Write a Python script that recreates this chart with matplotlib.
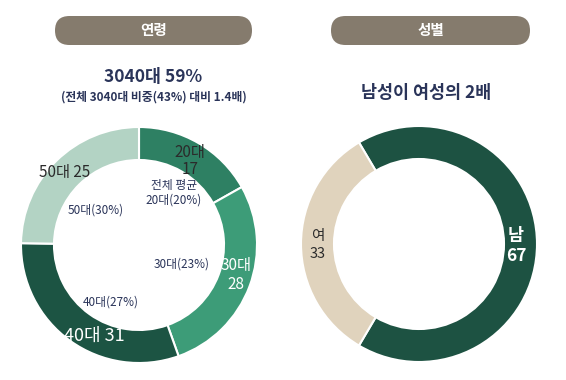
import matplotlib
matplotlib.use("Agg")
import matplotlib.pyplot as plt
from matplotlib.patches import FancyBboxPatch

plt.rcParams['font.family'] = ['Noto Sans CJK KR', 'DejaVu Sans']

# Data
age_labels = ['20대', '30대', '40대', '50대']
age_values = [17, 28, 31, 25]
age_avg = ['전체 평균\n20대(20%)', '30대(23%)', '40대(27%)', '50대(30%)']
gender_labels = ['남', '여']
gender_values = [67, 33]

W, H = 566, 380
fig = plt.figure(figsize=(W / 100, H / 100), dpi=100)
ax = fig.add_axes([0, 0, 1, 1])

def Y(py):
    return H - py

age_colors = ['#2e8063', '#3d9c78', '#1c5443', '#b3d3c4']
gender_colors = ['#1d5242', '#e0d3bd']

# Left donut
ax.pie(age_values, colors=age_colors, startangle=90, counterclock=False,
       center=(139, Y(245)), radius=118,
       wedgeprops=dict(width=33, edgecolor='white', linewidth=1.5))

# Right donut: 여 centred at 9 o'clock
frac_f = gender_values[1] / sum(gender_values)
ax.pie(gender_values, colors=gender_colors, startangle=180 - frac_f * 180,
       counterclock=False, center=(419, Y(244)), radius=118,
       wedgeprops=dict(width=33, edgecolor='white', linewidth=1.5))

ax.set_xlim(0, W)
ax.set_ylim(0, H)
ax.set_aspect('equal')
ax.axis('off')

# Header pills
for x0, x1, txt in [(55, 252, '연령'), (331, 530, '성별')]:
    p = FancyBboxPatch((x0, Y(45)), x1 - x0, 29,
                       boxstyle='round,pad=0,rounding_size=14.5',
                       fc='#857b6d', ec='none')
    ax.add_patch(p)
    ax.text((x0 + x1) / 2, Y(30.5), txt, ha='center', va='center',
            color='white', fontsize=10.5, fontweight='bold')

navy = '#2a3459'
ax.text(153, Y(77), '3040대 59%', ha='center', va='center', color=navy,
        fontsize=12.5, fontweight='bold')
ax.text(154, Y(97), '(전체 3040대 비중(43%) 대비 1.4배)', ha='center', va='center',
        color=navy, fontsize=8.5, fontweight='bold')
ax.text(426, Y(93), '남성이 여성의 2배', ha='center', va='center', color=navy,
        fontsize=12.5, fontweight='bold')

# Left donut value labels
dark = '#2b2b2b'
ax.text(190, Y(161), f'{age_labels[0]}\n{age_values[0]}', ha='center', va='center',
        color=dark, fontsize=11, linespacing=1.0)
ax.text(236, Y(275), f'{age_labels[1]}\n{age_values[1]}', ha='center', va='center',
        color='white', fontsize=11, linespacing=1.2)
ax.text(94, Y(336), f'{age_labels[2]} {age_values[2]}', ha='center', va='center',
        color='white', fontsize=13)
ax.text(65, Y(172), f'{age_labels[3]} {age_values[3]}', ha='center', va='center',
        color=dark, fontsize=11)

# Overall average labels
ax.text(174, Y(193), age_avg[0], ha='center', va='center', color=navy,
        fontsize=8.5, style='italic', fontweight='medium', linespacing=1.15)
ax.text(182, Y(264), age_avg[1], ha='center', va='center', color=navy,
        fontsize=8.5, style='italic', fontweight='medium')
ax.text(111, Y(302), age_avg[2], ha='center', va='center', color=navy,
        fontsize=8.5, style='italic', fontweight='medium')
ax.text(96, Y(210), age_avg[3], ha='center', va='center', color=navy,
        fontsize=8.5, style='italic', fontweight='medium')

# Right donut labels
ax.text(318, Y(245), f'{gender_labels[1]}\n{gender_values[1]}', ha='center', va='center',
        color=dark, fontsize=10.5, linespacing=1.3)
ax.text(516, Y(246), f'{gender_labels[0]}\n{gender_values[0]}', ha='center', va='center',
        color='white', fontsize=12.5, fontweight='bold', linespacing=1.2)

fig.savefig('out.png', dpi=100, facecolor='white')
